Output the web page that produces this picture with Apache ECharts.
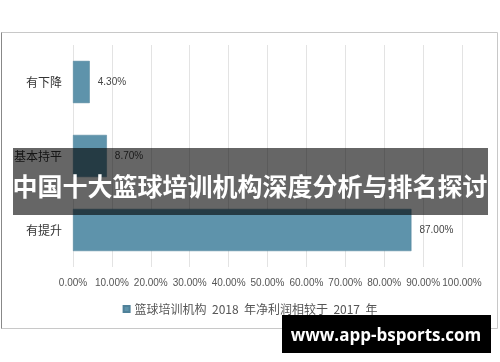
<!DOCTYPE html>
<html>
<head>
<meta charset="utf-8">
<script src="https://cdn.jsdelivr.net/npm/echarts@6/dist/echarts.min.js"></script>
<style>
html,body{margin:0;padding:0;background:#fff;}
#c{width:500px;height:362px;}
</style>
</head>
<body>
<div id="c"></div>
<script>
var categories = ['有下降', '基本持平', '有提升'];
var values = [0.043, 0.087, 0.87];
var seriesName = '篮球培训机构  2018  年净利润相较于  2017  年';
var tickMax = 1;
var tickInterval = 0.1;
var overlayTitle = '中国十大篮球培训机构深度分析与排名探讨';
var watermark = 'www.app-bsports.com';

var chart = echarts.init(document.getElementById('c'), null, {renderer: 'canvas'});
chart.setOption({
  animation: false,
  backgroundColor: '#fff',
  grid: {left: 73, right: 38, top: 45, bottom: 95, containLabel: false},
  legend: {
    bottom: 42,
    left: 'center',
    icon: 'rect',
    itemWidth: 6,
    itemHeight: 6,
    itemGap: 4,
    textStyle: {fontSize: 12, color: '#555', fontFamily: 'Noto Sans CJK SC'},
    data: [seriesName]
  },
  xAxis: {
    type: 'value',
    min: 0,
    max: tickMax,
    interval: tickInterval,
    axisLine: {show: false},
    axisTick: {show: false},
    splitLine: {show: true, lineStyle: {color: '#e3e3e3', width: 1}},
    axisLabel: {
      fontSize: 10,
      color: '#555',
      margin: 11,
      fontFamily: 'Liberation Sans',
      formatter: function (v) { return (v * 100).toFixed(2) + '%'; }
    }
  },
  yAxis: {
    type: 'category',
    data: categories,
    inverse: true,
    axisLine: {show: false},
    axisTick: {show: false},
    splitLine: {show: false},
    axisLabel: {fontSize: 12, color: '#333', margin: 11, fontFamily: 'Noto Sans CJK SC'}
  },
  series: [{
    name: seriesName,
    type: 'bar',
    data: values,
    barCategoryGap: '43%',
    itemStyle: {color: '#5e93ab', borderColor: '#4f8199', borderWidth: 0.5},
    label: {
      show: true,
      position: 'right',
      distance: 8,
      fontSize: 10,
      color: '#444',
      fontFamily: 'Liberation Sans',
      formatter: function (p) { return (p.value * 100).toFixed(2) + '%'; }
    }
  }],
  graphic: [
    {type: 'rect', shape: {x: 1.5, y: 32.5, width: 496, height: 296}, style: {fill: 'none', stroke: '#c8c8c8', lineWidth: 1}, z: 0, silent: true},
    {type: 'line', shape: {x1: 1.5, y1: 32.5, x2: 1.5, y2: 328.5}, style: {stroke: '#888', lineWidth: 1}, z: 0, silent: true},
    {type: 'rect', shape: {x: 13, y: 148, width: 475, height: 67}, style: {fill: 'rgba(0,0,0,0.6)'}, z: 100, silent: true},
    {type: 'text', x: 250, y: 186, style: {text: overlayTitle, fill: '#fff', font: 'bold 25px "Noto Sans CJK SC"', textAlign: 'center', textVerticalAlign: 'middle'}, z: 101, silent: true},
    {type: 'rect', shape: {x: 282, y: 315, width: 209, height: 38}, style: {fill: '#000'}, z: 100, silent: true},
    {type: 'text', x: 386, y: 336, style: {text: watermark, fill: '#fff', font: 'bold 17px "Open Sans"', textAlign: 'center', textVerticalAlign: 'middle'}, z: 101, silent: true}
  ]
});
</script>
</body>
</html>
